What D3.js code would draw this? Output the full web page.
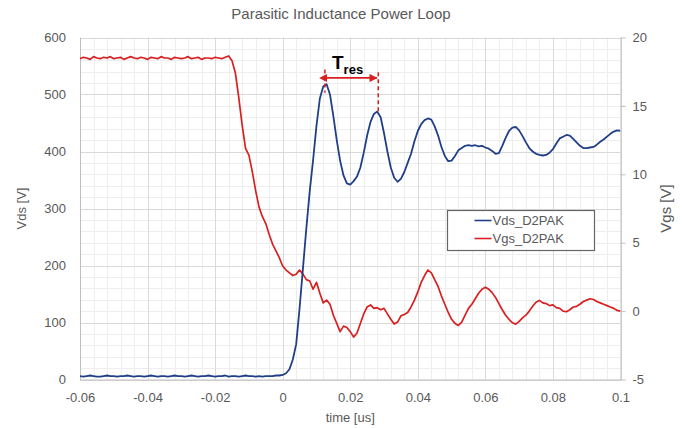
<!DOCTYPE html>
<html lang="en">
  <head>
    <meta charset="UTF-8" />
    <script src="https://d3js.org/d3.v7.min.js"></script>
    <title>Parasitic Inductance Power Loop</title>
    <style>
      body { margin: 0; background: #fff; }
      text { font-family: "Liberation Sans", Arial, sans-serif; }
    </style>
  </head>
  <body>
    <script>
      // sample grid, 1 ns step from -0.06 us to 0.1 us
      const time = d3.range(161).map((i) => +(-0.06 + i * 0.001).toFixed(3));

      // Vds [V]
      const vds = [
        6, 5, 6, 7, 6, 5, 5, 6, 7, 6,
        6, 5, 6, 6, 7, 6, 5, 6, 6, 5,
        6, 7, 6, 5, 6, 6, 5, 6, 7, 6,
        6, 5, 6, 7, 6, 5, 6, 6, 7, 6,
        5, 6, 6, 7, 5, 6, 6, 5, 6, 7,
        6, 6, 5, 6, 5, 6, 6, 6, 7, 7,
        8, 11, 18, 35, 62, 125, 195, 265, 330, 385,
        445, 493, 514, 518, 500, 462, 420, 384, 358, 344,
        342, 348, 356, 372, 398, 428, 452, 466, 470, 460,
        432, 400, 372, 354, 347, 352, 364, 380, 396, 418,
        436, 448, 455, 458, 456, 444, 428, 408, 392, 383,
        384, 392, 402, 406, 410, 411, 410, 411, 409, 410,
        407, 405, 401, 396, 397, 410, 424, 436, 442, 443,
        437, 427, 416, 406, 400, 396, 394, 393, 394, 398,
        404, 414, 423, 426, 429, 428, 422, 416, 410, 406,
        406, 407, 408, 412, 417, 421, 426, 431, 435, 437,
        436
      ];

      // Vgs [V]
      const vgs = [
        18.45, 18.55, 18.5, 18.4, 18.6, 18.5, 18.45, 18.55, 18.5, 18.6,
        18.45, 18.5, 18.55, 18.4, 18.5, 18.6, 18.5, 18.45, 18.55, 18.5,
        18.4, 18.55, 18.5, 18.45, 18.6, 18.5, 18.5, 18.4, 18.55, 18.5,
        18.45, 18.5, 18.6, 18.45, 18.5, 18.55, 18.4, 18.5, 18.5, 18.45,
        18.55, 18.5, 18.45,
        18.55, 18.65, 18.3, 17.4, 15.6, 13.6, 11.9, 11.4, 10.2, 8.8,
        7.6, 6.9, 6.4, 5.6, 4.9, 4.4, 3.9,
        3.3, 3.0, 2.8, 2.6, 2.7, 3.0, 2.7, 2.3, 2.2, 1.6,
        2.1, 1.3, 0.6, 0.8, 0.5, -0.3, -0.9, -1.5, -1.1, -1.2,
        -1.5, -1.9, -1.6, -0.9, -0.2, 0.3, 0.45, 0.2, 0.25, 0.1,
        0.2, -0.2, -0.6, -0.95, -0.8, -0.35, -0.25, -0.1, 0.3, 0.8,
        1.4, 2.1, 2.6, 3.0, 2.8, 2.3, 1.8, 1.1, 0.5, -0.1,
        -0.6, -0.9, -1.05, -0.8, -0.3, 0.2, 0.5, 0.9, 1.3, 1.6,
        1.75, 1.6, 1.35, 1.0, 0.55, 0.1, -0.3, -0.6, -0.85, -0.95,
        -0.75, -0.5, -0.3, 0.0, 0.35, 0.65, 0.78, 0.6, 0.55, 0.4,
        0.45, 0.25, 0.2, 0.0, -0.05, 0.1, 0.3, 0.35, 0.5, 0.7,
        0.8, 0.9, 0.85, 0.7, 0.6, 0.5, 0.4, 0.3, 0.2, 0.05,
        0.0
      ];

      const xTicks = [-0.06, -0.04, -0.02, 0, 0.02, 0.04, 0.06, 0.08, 0.1];
      const yLeftTicks = [0, 100, 200, 300, 400, 500, 600];
      const yRightTicks = [-5, 0, 5, 10, 15, 20];
      const seriesNames = ["Vds_D2PAK", "Vgs_D2PAK"];

      // Tres marker: the two first Vds peaks
      const tresTimes = [0.0125, 0.0283];
      const tresTop = [544, 539];
      const tresBottom = [503, 465];
      const tresArrowV = 529;

      const W = 682, H = 428;
      const m = { left: 80, right: 620.5, top: 37.5, bottom: 379.5 };
      const blue = "#203f86", red = "#d91f1f", grey = "#595959";

      const svg = d3.select("body").append("svg").attr("width", W).attr("height", H);

      const x = d3.scaleLinear().domain([-0.06, 0.1]).range([m.left, m.right]);
      const yL = d3.scaleLinear().domain([0, 600]).range([m.bottom, m.top]);
      const yR = d3.scaleLinear().domain([-5, 20]).range([m.bottom, m.top]);

      // grid
      const grid = svg.append("g");
      const xMinor = d3.range(-0.06, 0.1001, 0.004);
      const yMinor = d3.range(0, 601, 20);
      const px = (v) => Math.round(v) + 0.5;
      grid.selectAll("line.xm").data(xMinor).enter().append("line")
        .attr("x1", (d) => px(x(d))).attr("x2", (d) => px(x(d)))
        .attr("y1", m.top).attr("y2", m.bottom)
        .attr("stroke", "#eeeeee");
      grid.selectAll("line.ym").data(yMinor).enter().append("line")
        .attr("y1", (d) => px(yL(d))).attr("y2", (d) => px(yL(d)))
        .attr("x1", m.left).attr("x2", m.right)
        .attr("stroke", "#eeeeee");
      grid.selectAll("line.xM").data(xTicks).enter().append("line")
        .attr("x1", (d) => px(x(d))).attr("x2", (d) => px(x(d)))
        .attr("y1", m.top).attr("y2", m.bottom)
        .attr("stroke", "#d9d9d9");
      grid.selectAll("line.yM").data(yLeftTicks).enter().append("line")
        .attr("y1", (d) => px(yL(d))).attr("y2", (d) => px(yL(d)))
        .attr("x1", m.left).attr("x2", m.right)
        .attr("stroke", "#d9d9d9");

      // axes
      const axisStyle = (g) => {
        g.selectAll("text").attr("fill", grey).style("font-size", "13px");
      };

      const gx = svg.append("g")
        .attr("transform", `translate(0,${m.bottom})`)
        .call(d3.axisBottom(x).tickValues(xTicks).tickSize(0).tickPadding(13).tickFormat((d) => String(d)));
      gx.select(".domain").attr("stroke", "#bfbfbf");
      gx.call(axisStyle);

      const gyl = svg.append("g")
        .attr("transform", `translate(${m.left},0)`)
        .call(d3.axisLeft(yL).tickValues(yLeftTicks).tickSize(0).tickPadding(14));
      gyl.select(".domain").attr("stroke", "#bfbfbf");
      gyl.call(axisStyle);

      const gyr = svg.append("g")
        .attr("transform", `translate(${m.right},0)`)
        .call(d3.axisRight(yR).tickValues(yRightTicks).tickSize(5).tickSizeOuter(0).tickPadding(7).tickFormat((d) => String(d)));
      gyr.select(".domain").attr("stroke", "#bfbfbf");
      gyr.selectAll(".tick line").attr("stroke", "#bfbfbf");
      gyr.call(axisStyle);

      // titles
      svg.append("text").attr("x", 341).attr("y", 19).attr("text-anchor", "middle")
        .attr("fill", grey).style("font-size", "15px").text("Parasitic Inductance Power Loop");
      svg.append("text").attr("x", (m.left + m.right) / 2).attr("y", 422).attr("text-anchor", "middle")
        .attr("fill", grey).style("font-size", "13px").text("time [us]");
      svg.append("text").attr("transform", `translate(26,${(m.top + m.bottom) / 2}) rotate(-90)`)
        .attr("text-anchor", "middle").attr("fill", grey).style("font-size", "13px").text("Vds [V]");
      svg.append("text").attr("transform", `translate(671,${(m.top + m.bottom) / 2}) rotate(-90)`)
        .attr("text-anchor", "middle").attr("fill", grey).style("font-size", "15px").text("Vgs [V]");

      // series
      svg.append("clipPath").attr("id", "plot").append("rect")
        .attr("x", m.left).attr("y", m.top - 2).attr("width", m.right - m.left).attr("height", m.bottom - m.top + 4);
      const plot = svg.append("g").attr("clip-path", "url(#plot)");

      const lineVds = d3.line().x((d, i) => x(time[i])).y((d) => yL(d));
      const lineVgs = d3.line().x((d, i) => x(time[i])).y((d) => yR(d));

      plot.append("path").datum(vgs).attr("d", lineVgs)
        .attr("fill", "none").attr("stroke", red).attr("stroke-width", 1.7).attr("stroke-linejoin", "round");
      plot.append("path").datum(vds).attr("d", lineVds)
        .attr("fill", "none").attr("stroke", blue).attr("stroke-width", 1.8).attr("stroke-linejoin", "round");

      // Tres annotation
      const defs = svg.append("defs");
      ["start", "end"].forEach((k) => {
        defs.append("marker").attr("id", "arr-" + k)
          .attr("viewBox", "0 0 10 10").attr("refX", k === "end" ? 9 : 1).attr("refY", 5)
          .attr("markerWidth", 4.5).attr("markerHeight", 4.5).attr("orient", "auto-start-reverse")
          .append("path").attr("d", "M0,0L10,5L0,10z").attr("fill", red);
      });
      const ann = svg.append("g");
      tresTimes.forEach((t, i) => {
        ann.append("line")
          .attr("x1", x(t)).attr("x2", x(t))
          .attr("y1", yL(tresTop[i])).attr("y2", yL(tresBottom[i]))
          .attr("stroke", red).attr("stroke-width", 1.5).attr("stroke-dasharray", "4,3");
      });
      ann.append("line")
        .attr("x1", x(tresTimes[0]) + 1.5).attr("x2", x(tresTimes[1]) - 1.5)
        .attr("y1", yL(tresArrowV)).attr("y2", yL(tresArrowV))
        .attr("stroke", red).attr("stroke-width", 1.8)
        .attr("marker-start", "url(#arr-start)").attr("marker-end", "url(#arr-end)");
      const tt = ann.append("text").attr("x", 332).attr("y", 69).attr("fill", "#000")
        .style("font-weight", "bold");
      tt.append("tspan").style("font-size", "19px").text("T");
      tt.append("tspan").attr("dy", 5).style("font-size", "13px").text("res");

      // legend
      const lg = svg.append("g").attr("transform", "translate(447.5,210.5)");
      lg.append("rect").attr("width", 147).attr("height", 40)
        .attr("fill", "#fff").attr("stroke", "#666").attr("stroke-width", 1.2);
      [blue, red].forEach((c, i) => {
        const yy = 10 + i * 18;
        lg.append("line").attr("x1", 27).attr("x2", 44).attr("y1", yy).attr("y2", yy)
          .attr("stroke", c).attr("stroke-width", 1.6);
        lg.append("text").attr("x", 45).attr("y", yy).attr("dy", "0.35em")
          .attr("fill", grey).style("font-size", "13px").text(seriesNames[i]);
      });
    </script>
  </body>
</html>
